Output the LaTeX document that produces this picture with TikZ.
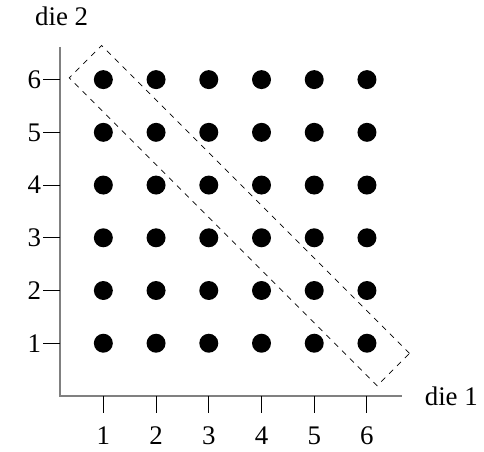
\documentclass[tikz,border=0pt]{standalone}
\usepackage{fontspec}
\setmainfont{Liberation Serif}
\tikzset{
  dot/.style={circle, fill=black, inner sep=0pt, minimum size=0.36cm},
  axis/.style={gray, line width=0.8pt},
  tick/.style={black, line width=0.5pt},
}
\begin{document}
\begin{tikzpicture}[font=\fontsize{14.5}{17}\selectfont]
\useasboundingbox (-0.96,-1.06) rectangle (8.22,7.51);
% axes
\coordinate (o) at (0.18,0);
\coordinate (xend) at (6.66,0);
\coordinate (yend) at (0.18,6.62);
\draw[axis] (yend) -- (o) -- (xend);
\node (xlab) at (7.6,0) {die 1};
\node (ylab) at (0.21,7.2) {die 2};
% ticks and numbers
\foreach \i in {1,...,6} {
  \coordinate (xt\i) at (\i,0);
  \coordinate (xb\i) at (\i,-0.32);
  \draw[tick] (xt\i) -- (xb\i);
  \node (xn\i) at (\i,-0.755) {\i};
  \coordinate (yt\i) at (0.18,\i);
  \coordinate (yb\i) at (-0.14,\i);
  \draw[tick] (yt\i) -- (yb\i);
  \node (yn\i) at (-0.31,\i) {\i};
}
% outcomes
\foreach \i in {1,...,6}
  \foreach \j in {1,...,6}
    \node[dot] (d\i\j) at (\i,\j) {};
% sum equals seven
\node[draw, dashed, rotate=-45, inner sep=0pt, minimum width=8.26cm,
  minimum height=0.87cm] (seven) at (3.58,3.42) {};
\end{tikzpicture}
\end{document}
